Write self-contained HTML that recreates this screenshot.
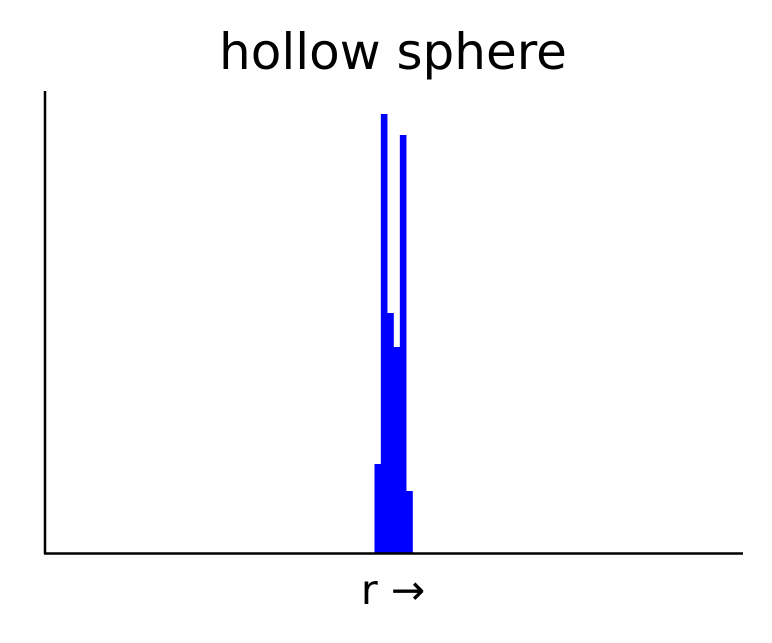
<!DOCTYPE html>
<html><head><meta charset="utf-8"><style>
body{margin:0;background:#fff;width:772px;height:643px;overflow:hidden}
svg{display:block;font-family:"DejaVu Sans","Liberation Sans",sans-serif}
</style></head><body>
<svg id="chart" width="772" height="643">
<text x="393" y="69" font-size="50" text-anchor="middle">hollow sphere</text>
<g id="bars"></g>
<line x1="45" y1="91" x2="45" y2="554" stroke="#000" stroke-width="2.5"/>
<line x1="44" y1="553.5" x2="743" y2="553.5" stroke="#000" stroke-width="2.5"/>
<text x="393" y="604" font-size="41" text-anchor="middle">r →</text>
</svg>
<script>
const binStarts = [52, 53, 54, 55, 56, 57];
const counts = [89, 439, 240, 206, 418, 62];
const binWidth = 1;
const xMin = 0, xMax = 110, yMax = 462;
const X0 = 45, X1 = 742, Y0 = 553, Y1 = 91;
function xs(v){return X0 + (v - xMin) / (xMax - xMin) * (X1 - X0);}
function ys(v){return Y0 - v / yMax * (Y0 - Y1);}
const g = document.getElementById('bars');
const NS = 'http://www.w3.org/2000/svg';
binStarts.forEach((b, i) => {
  const r = document.createElementNS(NS, 'rect');
  const x0 = xs(b), x1 = xs(b + binWidth);
  r.setAttribute('x', x0);
  r.setAttribute('width', x1 - x0 + 0.3);
  r.setAttribute('y', ys(counts[i]));
  r.setAttribute('height', Y0 - ys(counts[i]));
  r.setAttribute('fill', '#0000ff');
  
  
  g.appendChild(r);
});
</script>
</body></html>
